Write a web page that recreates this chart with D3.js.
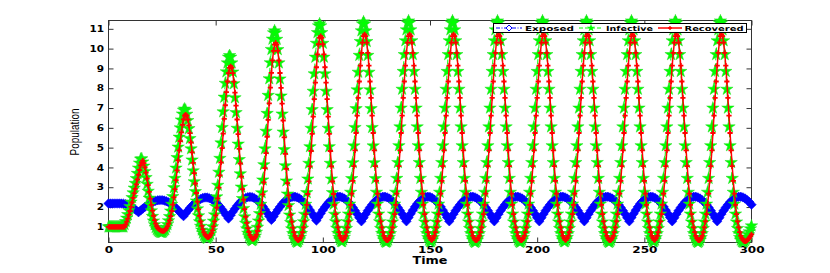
<!DOCTYPE html>
<html>
<head>
<meta charset="utf-8">
<script src="https://cdn.jsdelivr.net/npm/d3@7"></script>
<style>
  body { margin: 0; background: #fff; }
</style>
</head>
<body>
<div id="chart"></div>
<script>
"use strict";

// tick labels and series names
const xTicks = [0, 50, 100, 150, 200, 250, 300];
const yTicks = [1, 2, 3, 4, 5, 6, 7, 8, 9, 10, 11];
const seriesNames = ["Exposed", "Infective", "Recovered"];

// sampling steps of the solver output (time units)
const stepE = 1;
const stepIR = 0.5;

// Exposed, t = 0..300 every 1
const exposed = [
  2.18,2.18,2.18,2.18,2.18,2.18,2.18,2.17,2.15,2.11,2.05,1.98,1.91,1.83,1.74,
  1.83,1.92,2.01,2.08,2.16,2.22,2.27,2.31,2.34,2.35,2.35,2.33,2.29,2.24,2.17,2.09,2.00,1.89,1.78,1.66,1.54,
  1.68,1.82,1.95,2.07,2.18,2.28,2.35,2.41,2.46,2.48,2.48,2.45,2.41,2.34,2.25,2.14,2.02,1.88,1.73,1.58,1.42,
  1.59,1.76,1.92,2.06,2.19,2.30,2.39,2.46,2.50,2.51,2.50,2.45,2.38,2.29,2.17,2.03,1.88,1.71,1.53,1.35,
  1.52,1.70,1.86,2.01,2.15,2.27,2.36,2.44,2.49,2.52,2.52,2.49,2.44,2.36,2.26,2.14,2.00,1.84,1.67,1.50,1.32,
  1.50,1.68,1.85,2.00,2.14,2.26,2.36,2.44,2.49,2.52,2.52,2.49,2.43,2.35,2.25,2.12,1.98,1.82,1.65,1.46,1.28,
  1.46,1.65,1.82,1.98,2.12,2.25,2.35,2.43,2.49,2.52,2.52,2.49,2.43,2.35,2.25,2.12,1.98,1.82,1.65,1.46,1.28,
  1.47,1.66,1.84,2.01,2.16,2.28,2.38,2.46,2.51,2.52,2.51,2.46,2.38,2.28,2.16,2.01,1.84,1.66,1.47,1.28,
  1.46,1.65,1.82,1.98,2.12,2.25,2.35,2.43,2.49,2.52,2.52,2.49,2.43,2.35,2.25,2.12,1.98,1.82,1.65,1.46,1.28,
  1.46,1.65,1.82,1.98,2.12,2.25,2.35,2.43,2.49,2.52,2.52,2.49,2.43,2.35,2.25,2.12,1.98,1.82,1.65,1.46,1.28,
  1.46,1.65,1.82,1.98,2.12,2.25,2.35,2.43,2.49,2.52,2.52,2.49,2.43,2.35,2.25,2.12,1.98,1.82,1.65,1.46,1.28,
  1.46,1.65,1.82,1.98,2.12,2.25,2.35,2.43,2.49,2.52,2.52,2.49,2.43,2.35,2.25,2.12,1.98,1.82,1.65,1.46,1.28,
  1.47,1.66,1.84,2.01,2.16,2.28,2.38,2.46,2.51,2.52,2.51,2.46,2.38,2.28,2.16,2.01,1.84,1.66,1.47,1.28,
  1.46,1.65,1.82,1.98,2.12,2.25,2.35,2.43,2.49,2.52,2.52,2.49,2.43,2.35,2.25,2.12,1.98,1.82,1.65,1.46,1.28,
  1.46,1.65,1.82,1.98,2.12,2.25,2.35,2.43,2.49,2.52,2.52,2.49,2.43,2.35,2.25,2.12
];

// Infective, t = 0..300 every 0.5
const infective = [
  1,1,1,1,1,1,1,1,1,1,1,1,1,1,1,
  1.12,1.27,1.44,1.62,1.82,2.03,2.25,2.48,2.72,2.96,3.20,3.44,3.70,3.97,4.22,4.42,4.44,4.28,4.07,3.80,3.49,3.15,2.80,2.45,2.12,1.81,1.53,1.30,1.11,0.97,0.87,0.80,0.76,0.73,0.72,0.72,
  0.74,0.80,0.86,0.98,1.12,1.31,1.52,1.80,2.14,2.53,2.98,3.45,3.97,4.50,5.03,5.53,6.00,6.40,6.70,6.89,6.95,6.89,6.69,6.37,5.96,5.46,4.94,4.38,3.83,3.28,2.78,2.31,1.91,1.56,1.26,1.03,0.84,0.69,0.57,0.50,0.45,0.42,
  0.46,0.53,0.63,0.80,1.01,1.29,1.61,2.03,2.52,3.10,3.76,4.46,5.24,6.02,6.81,7.55,8.25,8.83,9.28,9.57,9.65,9.57,9.28,8.82,8.23,7.52,6.77,5.98,5.18,4.40,3.68,3.01,2.43,1.93,1.51,1.18,0.90,0.68,0.52,0.41,0.34,0.30,
  0.34,0.43,0.54,0.73,0.98,1.30,1.67,2.14,2.72,3.37,4.14,4.94,5.83,6.73,7.64,8.48,9.29,9.96,10.48,10.80,10.90,10.80,10.47,9.95,9.28,8.47,7.61,6.70,5.79,4.90,4.09,3.32,2.66,2.08,1.60,1.22,0.90,0.66,0.47,0.35,0.26,0.22,
  0.26,0.35,0.47,0.67,0.93,1.26,1.64,2.14,2.73,3.42,4.21,5.05,5.98,6.92,7.85,8.73,9.57,10.27,10.81,11.15,11.25,11.15,10.81,10.27,9.57,8.73,7.85,6.92,5.98,5.05,4.21,3.42,2.73,2.14,1.64,1.26,0.93,0.67,0.47,0.35,0.26,
  0.25,0.34,0.47,0.67,0.92,1.26,1.65,2.15,2.75,3.44,4.24,5.09,6.02,6.97,7.92,8.81,9.66,10.36,10.90,11.25,11.35,11.25,10.90,10.36,9.66,8.81,7.92,6.97,6.02,5.09,4.24,3.44,2.75,2.15,1.65,1.26,0.92,0.67,0.47,0.34,0.25,0.22,
  0.25,0.33,0.46,0.66,0.92,1.25,1.65,2.15,2.75,3.45,4.25,5.10,6.05,7.00,7.95,8.85,9.70,10.40,10.95,11.30,11.40,11.30,10.95,10.40,9.70,8.85,7.95,7.00,6.05,5.10,4.25,3.45,2.75,2.15,1.65,1.25,0.92,0.66,0.46,0.33,0.25,
  0.25,0.33,0.46,0.66,0.92,1.25,1.65,2.15,2.75,3.45,4.25,5.10,6.05,7.00,7.95,8.85,9.70,10.40,10.95,11.30,11.40,11.30,10.95,10.40,9.70,8.85,7.95,7.00,6.05,5.10,4.25,3.45,2.75,2.15,1.65,1.25,0.92,0.66,0.46,0.33,0.25,0.21,
  0.25,0.33,0.46,0.66,0.92,1.25,1.65,2.15,2.75,3.45,4.25,5.10,6.05,7.00,7.95,8.85,9.70,10.40,10.95,11.30,11.40,11.30,10.95,10.40,9.70,8.85,7.95,7.00,6.05,5.10,4.25,3.45,2.75,2.15,1.65,1.25,0.92,0.66,0.46,0.33,0.25,0.21,
  0.25,0.33,0.46,0.66,0.92,1.25,1.65,2.15,2.75,3.45,4.25,5.10,6.05,7.00,7.95,8.85,9.70,10.40,10.95,11.30,11.40,11.30,10.95,10.40,9.70,8.85,7.95,7.00,6.05,5.10,4.25,3.45,2.75,2.15,1.65,1.25,0.92,0.66,0.46,0.33,0.25,
  0.25,0.33,0.46,0.66,0.92,1.25,1.65,2.15,2.75,3.45,4.25,5.10,6.05,7.00,7.95,8.85,9.70,10.40,10.95,11.30,11.40,11.30,10.95,10.40,9.70,8.85,7.95,7.00,6.05,5.10,4.25,3.45,2.75,2.15,1.65,1.25,0.92,0.66,0.46,0.33,0.25,0.21,
  0.25,0.33,0.46,0.66,0.92,1.25,1.65,2.15,2.75,3.45,4.25,5.10,6.05,7.00,7.95,8.85,9.70,10.40,10.95,11.30,11.40,11.30,10.95,10.40,9.70,8.85,7.95,7.00,6.05,5.10,4.25,3.45,2.75,2.15,1.65,1.25,0.92,0.66,0.46,0.33,0.25,
  0.25,0.33,0.46,0.66,0.92,1.25,1.65,2.15,2.75,3.45,4.25,5.10,6.05,7.00,7.95,8.85,9.70,10.40,10.95,11.30,11.40,11.30,10.95,10.40,9.70,8.85,7.95,7.00,6.05,5.10,4.25,3.45,2.75,2.15,1.65,1.25,0.92,0.66,0.46,0.33,0.25,0.21,
  0.25,0.33,0.46,0.66,0.92,1.25,1.65,2.15,2.75,3.45,4.25,5.10,6.05,7.00,7.95,8.85,9.70,10.40,10.95,11.30,11.40,11.30,10.95,10.40,9.70,8.85,7.95,7.00,6.05,5.10,4.25,3.45,2.75,2.15,1.65,1.25,0.92,0.66,0.46,0.33,0.25,
  0.22,0.24,0.30,0.38,0.49,0.61,0.75,0.90,1.05
];

// Recovered, t = 0..300 every 0.5
const recovered = [
  1,1,1,1,1,1,1,1,1,1,1,1,1,1,1,1,
  1.12,1.26,1.42,1.60,1.80,2.01,2.23,2.46,2.69,2.92,3.15,3.39,3.63,3.87,4.10,4.26,4.34,4.22,4.00,3.74,3.44,3.11,2.77,2.43,2.11,1.82,1.56,1.34,1.16,1.03,0.94,0.88,0.84,0.81,0.79,0.78,
  0.80,0.85,0.92,1.02,1.16,1.33,1.54,1.80,2.12,2.49,2.91,3.36,3.85,4.36,4.86,5.33,5.77,6.15,6.43,6.62,6.67,6.61,6.42,6.12,5.73,5.26,4.76,4.23,3.71,3.19,2.71,2.27,1.88,1.55,1.27,1.05,0.87,0.72,0.61,0.54,0.49,0.47,
  0.50,0.57,0.67,0.82,1.02,1.28,1.58,1.97,2.44,2.98,3.60,4.25,4.98,5.71,6.45,7.14,7.80,8.34,8.76,9.03,9.11,9.03,8.76,8.33,7.78,7.12,6.42,5.68,4.94,4.20,3.54,2.91,2.37,1.90,1.51,1.20,0.94,0.74,0.58,0.48,0.41,0.38,
  0.42,0.50,0.61,0.79,1.01,1.31,1.66,2.10,2.64,3.25,3.97,4.72,5.55,6.40,7.24,8.03,8.78,9.41,9.89,10.20,10.29,10.20,9.89,9.40,8.77,8.02,7.22,6.37,5.52,4.69,3.93,3.21,2.59,2.05,1.61,1.26,0.96,0.73,0.55,0.44,0.36,0.32,
  0.35,0.43,0.55,0.73,0.97,1.28,1.64,2.11,2.66,3.30,4.05,4.83,5.70,6.57,7.45,8.28,9.06,9.71,10.22,10.54,10.63,10.54,10.22,9.71,9.06,8.28,7.45,6.57,5.70,4.83,4.05,3.30,2.66,2.11,1.64,1.28,0.97,0.73,0.55,0.43,0.35,
  0.34,0.43,0.54,0.73,0.97,1.28,1.64,2.11,2.68,3.32,4.07,4.86,5.74,6.62,7.51,8.34,9.14,9.79,10.30,10.63,10.72,10.63,10.30,9.79,9.14,8.34,7.51,6.62,5.74,4.86,4.07,3.32,2.68,2.11,1.64,1.28,0.97,0.73,0.54,0.43,0.34,0.31,
  0.34,0.43,0.54,0.73,0.97,1.28,1.64,2.11,2.68,3.32,4.07,4.86,5.74,6.62,7.51,8.34,9.14,9.79,10.30,10.63,10.72,10.63,10.30,9.79,9.14,8.34,7.51,6.62,5.74,4.86,4.07,3.32,2.68,2.11,1.64,1.28,0.97,0.73,0.54,0.43,0.34,
  0.34,0.43,0.54,0.73,0.97,1.28,1.64,2.11,2.68,3.32,4.07,4.86,5.74,6.62,7.51,8.34,9.14,9.79,10.30,10.63,10.72,10.63,10.30,9.79,9.14,8.34,7.51,6.62,5.74,4.86,4.07,3.32,2.68,2.11,1.64,1.28,0.97,0.73,0.54,0.43,0.34,0.31,
  0.34,0.43,0.54,0.73,0.97,1.28,1.64,2.11,2.68,3.32,4.07,4.86,5.74,6.62,7.51,8.34,9.14,9.79,10.30,10.63,10.72,10.63,10.30,9.79,9.14,8.34,7.51,6.62,5.74,4.86,4.07,3.32,2.68,2.11,1.64,1.28,0.97,0.73,0.54,0.43,0.34,0.31,
  0.34,0.43,0.54,0.73,0.97,1.28,1.64,2.11,2.68,3.32,4.07,4.86,5.74,6.62,7.51,8.34,9.14,9.79,10.30,10.63,10.72,10.63,10.30,9.79,9.14,8.34,7.51,6.62,5.74,4.86,4.07,3.32,2.68,2.11,1.64,1.28,0.97,0.73,0.54,0.43,0.34,
  0.34,0.43,0.54,0.73,0.97,1.28,1.64,2.11,2.68,3.32,4.07,4.86,5.74,6.62,7.51,8.34,9.14,9.79,10.30,10.63,10.72,10.63,10.30,9.79,9.14,8.34,7.51,6.62,5.74,4.86,4.07,3.32,2.68,2.11,1.64,1.28,0.97,0.73,0.54,0.43,0.34,0.31,
  0.34,0.43,0.54,0.73,0.97,1.28,1.64,2.11,2.68,3.32,4.07,4.86,5.74,6.62,7.51,8.34,9.14,9.79,10.30,10.63,10.72,10.63,10.30,9.79,9.14,8.34,7.51,6.62,5.74,4.86,4.07,3.32,2.68,2.11,1.64,1.28,0.97,0.73,0.54,0.43,0.34,
  0.34,0.43,0.54,0.73,0.97,1.28,1.64,2.11,2.68,3.32,4.07,4.86,5.74,6.62,7.51,8.34,9.14,9.79,10.30,10.63,10.72,10.63,10.30,9.79,9.14,8.34,7.51,6.62,5.74,4.86,4.07,3.32,2.68,2.11,1.64,1.28,0.97,0.73,0.54,0.43,0.34,0.31,
  0.34,0.43,0.54,0.73,0.97,1.28,1.64,2.11,2.68,3.32,4.07,4.86,5.74,6.62,7.51,8.34,9.14,9.79,10.30,10.63,10.72,10.63,10.30,9.79,9.14,8.34,7.51,6.62,5.74,4.86,4.07,3.32,2.68,2.11,1.64,1.28,0.97,0.73,0.54,0.43,0.34,
  0.29,0.27,0.28,0.32,0.38,0.45,0.53,0.62
];

const WIDTH = 830;
const HEIGHT = 273;
const AXIS_COLOR = "#333";
const BOLD_FONT = "DejaVu Sans, sans-serif";

let svg = d3.select("#chart")
            .append("svg")
            .attr("width", WIDTH)
            .attr("height", HEIGHT);

let x = d3.scaleLinear()
          .domain([0, 300])
          .range([108.5, 751.5]);
let y = d3.scaleLinear()
          .domain([0.21, 11.42])
          .range([242.5, 20.5]);

const X0 = x.range()[0], X1 = x.range()[1];
const Y0 = y.range()[0], Y1 = y.range()[1];

function styleAxis(g)
{
    g.select(".domain").remove();
    g.selectAll(".tick line").attr("stroke", AXIS_COLOR);
    g.selectAll(".tick text")
     .attr("fill", "#000")
     .style("font-family", BOLD_FONT)
     .style("font-weight", "bold")
     .style("font-size", "8.5px");
}

// bottom / left axes with inward ticks
svg.append("g")
   .attr("transform", "translate(0," + Y0 + ")")
   .call(d3.axisBottom(x).tickValues(xTicks).tickSizeInner(-5).tickSizeOuter(0).tickPadding(4))
   .call(styleAxis)
   .call(g => g.selectAll(".tick text")
               .attr("textLength", d => String(d).length * 8.4)
               .attr("lengthAdjust", "spacingAndGlyphs"));

svg.append("g")
   .attr("transform", "translate(" + X0 + ",0)")
   .call(d3.axisLeft(y).tickValues(yTicks).tickSizeInner(-5).tickSizeOuter(0).tickPadding(4.5))
   .call(styleAxis)
   .call(g => g.selectAll(".tick text")
               .attr("textLength", d => String(d).length * 7.3)
               .attr("lengthAdjust", "spacingAndGlyphs"));

// mirrored ticks on top / right
svg.append("g")
   .attr("transform", "translate(0," + Y1 + ")")
   .call(d3.axisTop(x).tickValues(xTicks).tickSizeInner(-5).tickSizeOuter(0).tickFormat(""))
   .call(styleAxis);

svg.append("g")
   .attr("transform", "translate(" + X1 + ",0)")
   .call(d3.axisRight(y).tickValues(yTicks).tickSizeInner(-5).tickSizeOuter(0).tickFormat(""))
   .call(styleAxis);

svg.append("rect")
   .attr("x", X0)
   .attr("y", Y1)
   .attr("width", X1 - X0)
   .attr("height", Y0 - Y1)
   .attr("fill", "none")
   .attr("stroke", AXIS_COLOR);

// axis labels
svg.append("text")
   .attr("x", (X0 + X1) / 2)
   .attr("y", 264)
   .attr("text-anchor", "middle")
   .attr("textLength", 35)
   .attr("lengthAdjust", "spacingAndGlyphs")
   .style("font-family", BOLD_FONT)
   .style("font-weight", "bold")
   .style("font-size", "10px")
   .text("Time");

svg.append("text")
   .attr("transform", "translate(79," + ((Y0 + Y1) / 2 + 0.5) + ") rotate(-90)")
   .attr("text-anchor", "middle")
   .attr("textLength", 47)
   .attr("lengthAdjust", "spacingAndGlyphs")
   .style("font-family", "Liberation Sans, Arial, sans-serif")
   .style("font-size", "12px")
   .text("Population");

// marker shapes
const diamondPath = "M0,-4.7L4.7,0L0,4.7L-4.7,0Z";
const plusPath = "M-2.6,0H2.6M0,-2.6V2.6";
const starPath = d3.symbol().type(d3.symbolStar).size(48)();

function drawSeries(values, step, opts)
{
    let line = d3.line()
                 .x((d, i) => x(i * step))
                 .y(d => y(d));

    let g = svg.append("g");
    g.append("path")
     .datum(values)
     .attr("fill", "none")
     .attr("stroke", opts.color)
     .attr("stroke-width", opts.lineWidth)
     .attr("stroke-dasharray", opts.dash)
     .attr("d", line);

    g.append("g")
     .selectAll("path")
     .data(values)
     .join("path")
     .attr("transform", (d, i) => "translate(" + x(i * step) + "," + y(d) + ")")
     .attr("d", opts.marker)
     .attr("fill", opts.fill)
     .attr("stroke", opts.stroke)
     .attr("stroke-width", opts.markerStroke);
}

drawSeries(exposed, stepE, {color: "#0000ff", lineWidth: 1, dash: "6,2,1,2",
                            marker: diamondPath, fill: "#0000ff", stroke: "#0000ff", markerStroke: 0.6});
drawSeries(infective, stepIR, {color: "#00ff00", lineWidth: 1, dash: "5,3",
                               marker: starPath, fill: "#00ff00", stroke: "#22dd22", markerStroke: 0.5});
drawSeries(recovered, stepIR, {color: "#ff0000", lineWidth: 1.5, dash: null,
                               marker: plusPath, fill: "none", stroke: "#ff0000", markerStroke: 1.8});

// legend
let legend = svg.append("g");
legend.append("rect")
      .attr("x", 493.5)
      .attr("y", 23.5)
      .attr("width", 253)
      .attr("height", 9)
      .attr("fill", "#fff")
      .attr("stroke", "#000");

const legendItems = [
    {name: seriesNames[0], x1: 496, x2: 522, tx: 525, tl: 49, color: "#0000ff", dash: "4,1.5,1,1.5"},
    {name: seriesNames[1], x1: 579, x2: 603, tx: 606, tl: 47, color: "#00ff00", dash: "4,2"},
    {name: seriesNames[2], x1: 658, x2: 682, tx: 684.5, tl: 59, color: "#ff0000", dash: null}
];
const LEGEND_Y = 28;

legendItems.forEach((it, i) =>
{
    legend.append("line")
          .attr("x1", it.x1).attr("x2", it.x2)
          .attr("y1", LEGEND_Y).attr("y2", LEGEND_Y)
          .attr("stroke", it.color)
          .attr("stroke-width", i === 2 ? 1.5 : 1)
          .attr("stroke-dasharray", it.dash);

    let mx = (it.x1 + it.x2) / 2;
    let mark = legend.append("path")
                     .attr("transform", "translate(" + mx + "," + LEGEND_Y + ")");
    if (i === 0)
        mark.attr("d", "M0,-3L3,0L0,3L-3,0Z").attr("fill", "#fff").attr("stroke", it.color).attr("stroke-width", 1);
    else if (i === 1)
        mark.attr("d", d3.symbol().type(d3.symbolStar).size(22)()).attr("fill", it.color);
    else
        mark.attr("d", "M-1.8,0H1.8M0,-1.8V1.8").attr("stroke", it.color).attr("stroke-width", 1.8);

    legend.append("text")
          .attr("x", it.tx)
          .attr("y", 30.6)
          .attr("textLength", it.tl)
          .attr("lengthAdjust", "spacingAndGlyphs")
          .style("font-family", BOLD_FONT)
          .style("font-weight", "bold")
          .style("font-size", "7px")
          .text(it.name);
});
</script>
</body>
</html>
